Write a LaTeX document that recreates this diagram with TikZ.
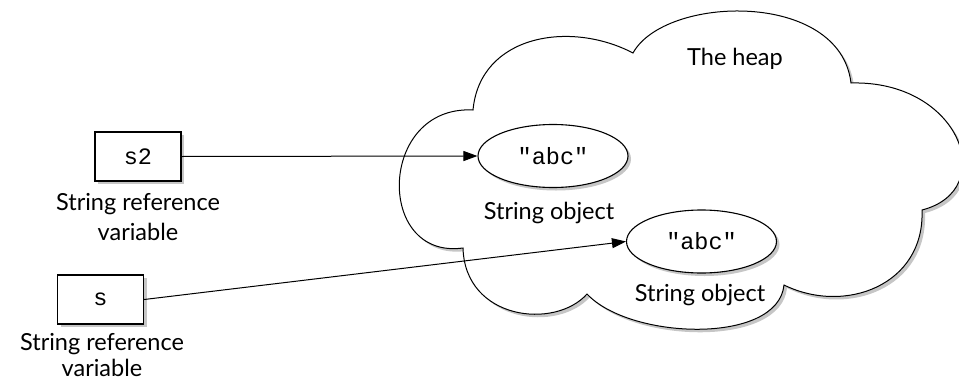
\documentclass[tikz,border=0pt]{standalone}
\usepackage{fontspec}
\setmainfont{Lato}
\setmonofont{Liberation Mono}
\usetikzlibrary{arrows.meta,shapes.geometric,shadows}
\begin{document}
\begin{tikzpicture}[x=1pt,y=-1pt,
  lbl/.style={font=\fontsize{23.5}{28}\selectfont, anchor=base, inner sep=0pt},
  code/.style={font=\ttfamily\fontsize{23.5}{28}\selectfont},
  shad/.style={drop shadow={shadow xshift=3pt, shadow yshift=-3pt, fill=gray!45, opacity=1}},
  varbox/.style={draw, line width=1.4pt, fill=white, minimum width=86pt, minimum height=49pt, inner sep=0pt, shad},
  objell/.style={ellipse, draw, line width=1.1pt, fill=white, minimum width=150pt, minimum height=63pt, inner sep=0pt, shad},
  ref/.style={line width=1pt, -{Triangle[length=14pt,width=10pt]}},
]
\useasboundingbox (0,0) rectangle (959,383);
\def\heapcloud{(463,248) .. controls (375,260) and (378,105) .. (473,110)
  .. controls (480,35) and (570,20) .. (633,53)
  .. controls (665,-5) and (840,-10) .. (851,83)
  .. controls (960,80) and (1000,190) .. (922,210)
  .. controls (925,285) and (845,315) .. (784,285)
  .. controls (778,345) and (630,340) .. (587,294)
  .. controls (555,330) and (465,320) .. (463,248) -- cycle}
\fill[gray!45, shift={(3,3)}] \heapcloud;
\draw[fill=white, line width=1pt] \heapcloud;

\node[lbl] (heap) at (735,65) {The heap};

\node[varbox, code] (s2) at (138,156.5) {s2};
\node[varbox, code] (s) at (100.5,299.5) {s};

\node[lbl] (s2l1) at (138,210) {String reference};
\node[lbl] (s2l2) at (138,240) {variable};
\node[lbl] (sl1) at (102,350) {String reference};
\node[lbl] (sl2) at (102,376) {variable};

\node[objell, code] (e1) at (553,156) {"abc"};
\node[objell, code] (e2) at (701.5,241.5) {"abc"};

\node[lbl] (o1) at (549,219) {String object};
\node[lbl] (o2) at (700,301.5) {String object};

\draw[ref] (s2.east) -- (e1.west);
\draw[ref] (s.east) -- (e2.west);
\end{tikzpicture}
\end{document}
